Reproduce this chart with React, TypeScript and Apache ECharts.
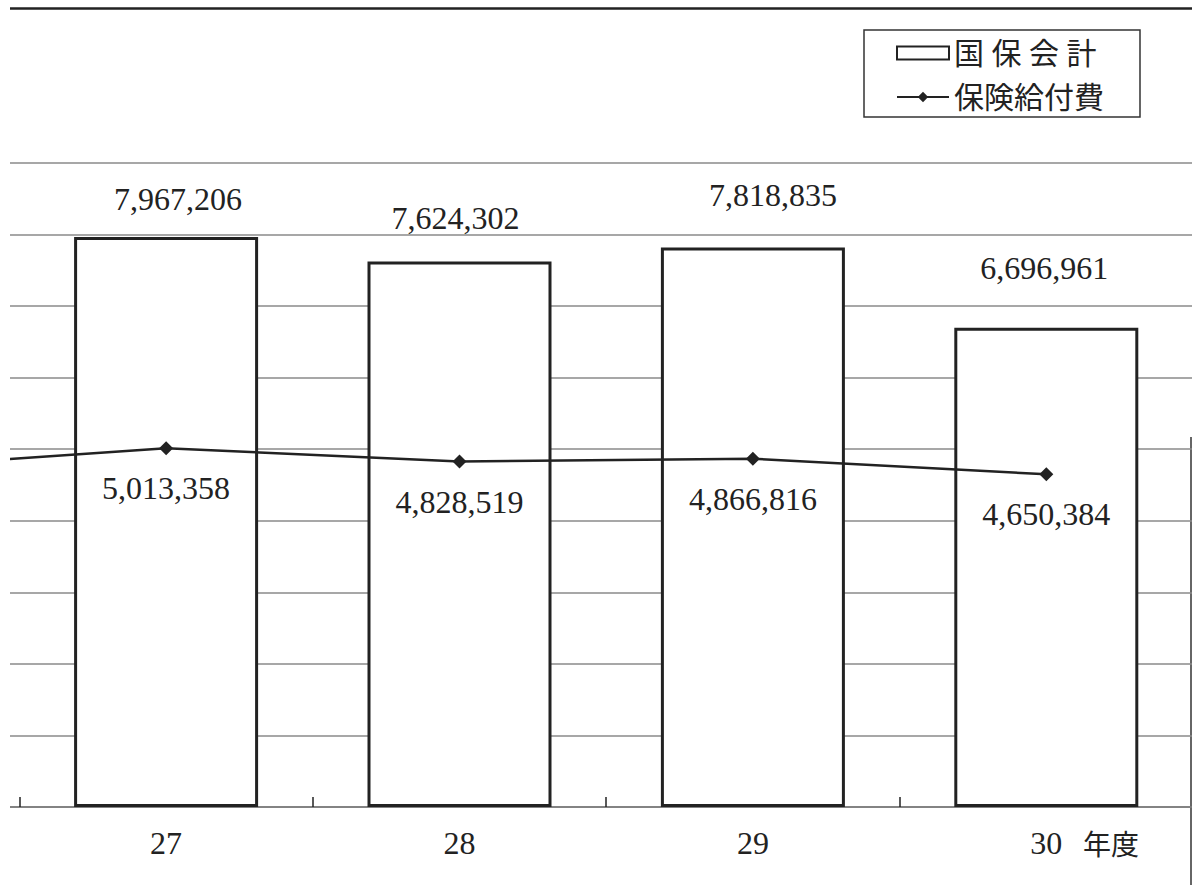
import React, { useEffect, useRef } from 'react';
import * as echarts from 'echarts';

// ---- data ----
const categories = ['26', '27', '28', '29', '30'];
const kokuhoTotal: (number | null)[] = [null, 7967206, 7624302, 7818835, 6696961];
const benefitCost = [4730000, 5013358, 4828519, 4866816, 4650384];
const legendNames = ['国 保 会 計', '保険給付費'];
const unitLabel = '年度';
const yMin = 0;
const yMax = 9000000;
const yStep = 1000000;

// ---- styling (label placement per bar, as laid out in the original) ----
const barLabelGap = [0, 22, 27, 37, 44];
const barLabelShiftX = [0, 12, -4, 20, -2];
const hiddenCategoryIndex = 0; // year 26 lies outside the cropped frame

const fmt = (v: number) => v.toLocaleString('en-US');
const SERIF = "'Liberation Serif', 'Noto Sans CJK JP', serif";
const CJK = "'Noto Sans CJK JP', sans-serif";

// The picture is a crop: the plot starts one category (year 26) left of the page.
const SHIFT = 284; // px of the chart hidden to the left of the visible frame
const VIS_W = 1182;
const CHART_W = VIS_W + SHIFT + 1;

export default function App() {
  const ref = useRef<HTMLDivElement>(null);
  useEffect(() => {
    if (!ref.current) return;
    const chart = echarts.init(ref.current, undefined, { renderer: 'svg' });
    const barData = kokuhoTotal.map((v, i) =>
      v == null
        ? null
        : { value: v, label: { distance: barLabelGap[i], offset: [barLabelShiftX[i], 0] } }
    );
    const lineData = benefitCost.map((v, i) =>
      i === hiddenCategoryIndex ? { value: v, label: { show: false } } : v
    );
    chart.setOption({
      animation: false,
      grid: { left: 0, right: 0, top: 163, bottom: 78, containLabel: false },
      legend: {
        orient: 'vertical',
        left: SHIFT + 854,
        top: 30,
        padding: [8, 36, 5, 32],
        itemGap: 14,
        itemWidth: 52,
        itemHeight: 13,
        borderColor: '#333',
        borderWidth: 1.5,
        backgroundColor: '#fff',
        textStyle: { fontSize: 30, fontFamily: SERIF, color: '#222' },
        data: [
          { name: legendNames[0], icon: 'rect' },
          { name: legendNames[1] },
        ],
      },
      xAxis: {
        type: 'category',
        data: categories,
        boundaryGap: true,
        axisLine: { lineStyle: { color: '#777', width: 1.5 } },
        axisTick: {
          show: true,
          interval: 0,
          inside: true,
          length: 10,
          lineStyle: { color: '#222', width: 1.5 },
        },
        axisLabel: {
          fontSize: 32,
          fontFamily: SERIF,
          color: '#222',
          margin: 20,
          interval: (i: number) => i !== hiddenCategoryIndex,
        },
      },
      yAxis: {
        type: 'value',
        min: yMin,
        max: yMax,
        interval: yStep,
        axisLine: { show: false },
        axisTick: { show: false },
        axisLabel: { show: false },
        splitLine: { lineStyle: { color: '#8a8a8a', width: 1.5 } },
      },
      series: [
        {
          name: legendNames[0],
          type: 'bar',
          data: barData,
          barWidth: 184,
          itemStyle: { color: '#fff', borderColor: '#222', borderWidth: 3 },
          label: {
            show: true,
            position: 'top',
            fontSize: 32,
            fontFamily: SERIF,
            color: '#222',
            formatter: (p: any) => fmt(p.value),
          },
        },
        {
          name: legendNames[1],
          type: 'line',
          data: lineData,
          symbol: 'diamond',
          symbolSize: 14,
          itemStyle: { color: '#222' },
          lineStyle: { color: '#222', width: 2.5 },
          label: {
            show: true,
            position: 'bottom',
            distance: 17,
            fontSize: 32,
            fontFamily: SERIF,
            color: '#222',
            formatter: (p: any) => fmt(p.value),
          },
        },
      ],
      graphic: [
        {
          type: 'line',
          shape: { x1: SHIFT, y1: 8.5, x2: CHART_W, y2: 8.5 },
          style: { stroke: '#222', lineWidth: 2.5 },
        },
        {
          type: 'line',
          shape: { x1: SHIFT + 1181, y1: 437, x2: SHIFT + 1181, y2: 885 },
          style: { stroke: '#333', lineWidth: 1.5 },
        },
        {
          type: 'text',
          x: SHIFT + 1073,
          y: 843,
          style: {
            text: unitLabel,
            fontSize: 28,
            fontFamily: CJK,
            fill: '#222',
            verticalAlign: 'middle',
          },
        },
      ],
    });
    return () => chart.dispose();
  }, []);
  return (
    <div
      style={{ position: 'absolute', left: 10, top: 0, width: VIS_W, height: 885, overflow: 'hidden', background: '#fff' }}
    >
      <div
        ref={ref}
        style={{ position: 'absolute', left: -SHIFT, top: 0, width: CHART_W, height: 885 }}
      />
    </div>
  );
}
